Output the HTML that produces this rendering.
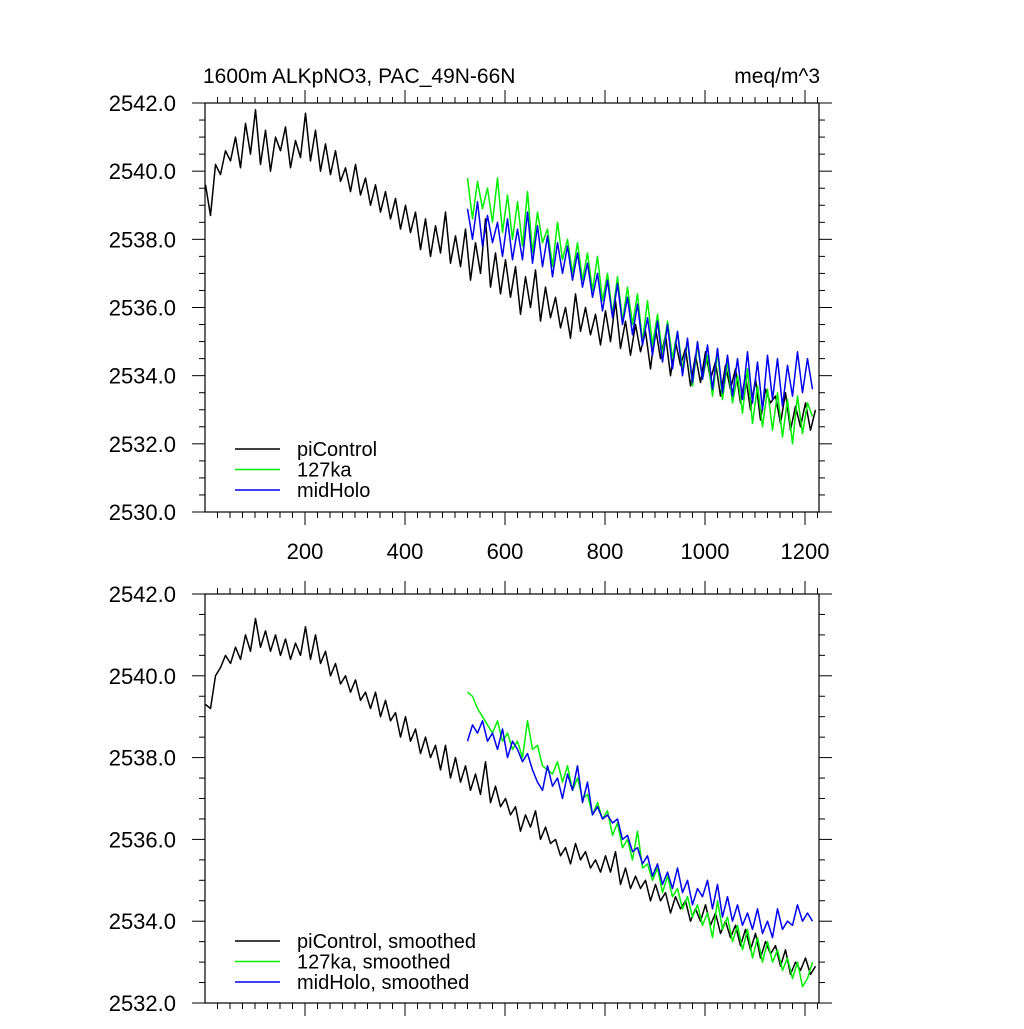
<!DOCTYPE html>
<html><head><meta charset="utf-8"><style>
body{margin:0;background:#fff;}
svg text{font-family:"Liberation Sans",Arial,sans-serif;fill:#000;}
</style></head><body>
<svg id="chart" width="1024" height="1024" xmlns="http://www.w3.org/2000/svg"></svg>
<script>
const pcX0=1, rcX0=525, step=10;
const yTicks1=["2530.0","2532.0","2534.0","2536.0","2538.0","2540.0","2542.0"];
const yTicks2=["2532.0","2534.0","2536.0","2538.0","2540.0","2542.0"];
const xTickLabels=["200","400","600","800","1000","1200"];
const piRaw=[2539.6,2538.7,2540.2,2539.9,2540.6,2540.3,2541.0,2540.1,2541.4,2540.5,
2541.8,2540.2,2541.2,2540.0,2541.0,2540.6,2541.3,2540.1,2540.9,2540.4,
2541.7,2540.3,2541.2,2540.0,2540.8,2539.9,2540.6,2539.7,2540.1,2539.4,
2540.2,2539.3,2539.8,2539.0,2539.6,2538.8,2539.4,2538.6,2539.2,2538.3,
2539.0,2538.2,2538.8,2537.7,2538.6,2537.5,2538.4,2537.6,2538.8,2537.3,
2538.1,2537.2,2538.3,2536.8,2537.9,2537.0,2538.6,2536.6,2537.6,2536.4,
2537.4,2536.3,2537.2,2535.8,2536.9,2536.0,2537.1,2535.6,2536.6,2535.7,
2536.3,2535.4,2536.0,2535.1,2536.4,2535.3,2536.0,2535.2,2535.8,2534.9,
2535.9,2535.0,2536.2,2534.8,2535.6,2534.6,2535.5,2534.7,2535.3,2534.2,
2535.4,2534.5,2535.2,2534.0,2535.0,2534.3,2534.8,2533.7,2534.6,2533.8,
2534.7,2533.9,2534.4,2533.4,2534.3,2533.6,2534.2,2533.2,2534.0,2533.0,
2533.9,2532.7,2533.6,2533.2,2533.4,2532.6,2533.5,2532.4,2533.1,2532.5,
2533.2,2532.4,2533.0];
const ka127Raw=[2539.8,2538.6,2539.7,2538.9,2539.5,2538.5,2539.8,2538.2,2539.3,2538.0,
2539.1,2537.8,2539.4,2537.6,2538.8,2537.9,2538.3,2537.2,2538.5,2537.4,
2538.0,2537.0,2537.9,2536.8,2537.6,2536.5,2537.5,2536.2,2537.0,2535.8,
2536.9,2535.6,2536.6,2535.5,2536.4,2535.0,2536.2,2534.9,2535.8,2534.6,
2535.6,2534.5,2535.3,2534.2,2535.0,2533.7,2534.9,2533.9,2534.6,2533.4,
2534.7,2533.3,2534.4,2533.2,2534.0,2532.9,2534.2,2532.6,2533.7,2532.5,
2533.6,2532.4,2533.5,2532.2,2533.3,2532.0,2533.4,2532.3,2533.2,2532.8];
const midRaw=[2538.9,2538.0,2539.1,2537.8,2538.7,2537.9,2538.5,2537.5,2538.6,2537.4,
2538.3,2537.4,2538.8,2537.3,2538.4,2537.2,2538.1,2536.9,2537.9,2537.0,
2537.8,2536.8,2537.6,2536.6,2537.3,2536.3,2537.0,2535.9,2536.8,2535.7,
2536.7,2535.5,2536.3,2535.2,2536.1,2534.9,2535.7,2534.6,2535.6,2534.4,
2535.5,2534.2,2535.3,2534.0,2535.1,2533.8,2535.0,2533.9,2534.9,2533.6,
2534.8,2533.5,2534.6,2533.4,2534.5,2533.3,2534.7,2533.2,2534.4,2533.0,
2534.6,2533.3,2534.5,2533.1,2534.3,2533.4,2534.7,2533.5,2534.5,2533.6];
const piSm=[2539.3,2539.2,2540.0,2540.2,2540.5,2540.3,2540.7,2540.4,2541.0,2540.6,
2541.4,2540.7,2541.1,2540.6,2541.0,2540.5,2540.9,2540.4,2540.8,2540.5,
2541.2,2540.4,2541.0,2540.3,2540.6,2540.0,2540.3,2539.8,2540.0,2539.6,
2539.9,2539.4,2539.6,2539.2,2539.6,2539.0,2539.4,2538.9,2539.1,2538.5,
2539.0,2538.4,2538.7,2538.1,2538.5,2538.0,2538.3,2537.7,2538.3,2537.5,
2538.0,2537.4,2537.8,2537.2,2537.6,2537.1,2537.9,2536.9,2537.3,2536.8,
2537.0,2536.6,2536.8,2536.2,2536.6,2536.3,2536.7,2536.0,2536.3,2535.9,
2536.0,2535.6,2535.8,2535.4,2535.9,2535.5,2535.7,2535.3,2535.5,2535.2,
2535.6,2535.2,2535.7,2534.9,2535.3,2534.8,2535.1,2534.8,2535.0,2534.5,
2534.9,2534.5,2534.7,2534.2,2534.6,2534.3,2534.5,2534.0,2534.3,2534.0,
2534.4,2533.9,2534.2,2533.7,2534.0,2533.6,2533.9,2533.4,2533.8,2533.3,
2533.7,2533.1,2533.5,2533.2,2533.4,2532.9,2533.3,2532.7,2533.0,2532.8,
2533.1,2532.7,2532.9];
const ka127Sm=[2539.6,2539.5,2539.2,2539.0,2538.8,2538.6,2538.9,2538.4,2538.6,2538.2,
2538.4,2538.0,2538.9,2538.2,2538.3,2537.8,2537.7,2537.6,2537.9,2537.4,
2537.8,2537.2,2537.5,2537.0,2537.1,2536.6,2536.9,2536.5,2536.7,2536.1,
2536.4,2535.8,2536.0,2535.5,2536.2,2535.3,2535.4,2535.0,2535.3,2534.7,
2535.1,2534.6,2534.8,2534.3,2534.6,2534.1,2534.4,2533.9,2534.2,2533.6,
2534.5,2533.8,2534.1,2533.5,2533.9,2533.3,2533.8,2533.1,2533.6,2533.0,
2533.5,2533.0,2533.3,2532.8,2533.1,2532.6,2533.0,2532.4,2532.6,2533.0];
const midSm=[2538.4,2538.8,2538.6,2538.9,2538.4,2538.6,2538.2,2538.7,2538.0,2538.4,
2538.2,2537.9,2538.1,2537.7,2537.4,2537.2,2537.8,2537.3,2537.5,2537.0,
2537.6,2537.2,2537.8,2536.9,2537.4,2536.6,2536.8,2536.5,2536.6,2536.4,
2536.5,2536.0,2536.1,2535.7,2535.8,2535.4,2535.6,2535.1,2535.4,2534.9,
2535.2,2534.8,2535.3,2534.7,2535.0,2534.4,2534.8,2534.6,2535.0,2534.3,
2534.9,2534.1,2534.6,2534.0,2534.4,2533.9,2534.2,2533.8,2534.3,2533.7,
2534.0,2533.6,2534.3,2533.8,2534.0,2533.9,2534.4,2534.0,2534.2,2534.0];

const svg=document.getElementById('chart');
const NS='http://www.w3.org/2000/svg';
function mk(tag,attrs,parent){const e=document.createElementNS(NS,tag);for(const k in attrs)e.setAttribute(k,attrs[k]);(parent||svg).appendChild(e);return e;}
const L=205,R=819;
const xs=v=>L+v*0.5;

function panel(top,bot,ymin,ymax,yLabels,series,legendNames,legendY0,showXLabels,name){
  const g=mk('g',{});
  
  
  const ys=v=>bot-(v-ymin)*(bot-top)/(ymax-ymin);
  series.forEach(s=>{
    const pts=s.data.map((v,i)=>xs(s.x0+i*step).toFixed(1)+','+ys(v).toFixed(1)).join(' ');
    const p=mk('polyline',{points:pts,fill:'none',stroke:s.color,'stroke-width':1.5,'stroke-linejoin':'round'},g);
    
    
  });
  const fr=mk('rect',{x:L,y:top,width:R-L,height:bot-top,fill:'none',stroke:'#000','stroke-width':1.2},g);
  
  
  for(let v=25;v<=1225;v+=25){
    const major=v%200===0;const len=major?13:6;const x=xs(v);
    mk('line',{x1:x,x2:x,y1:bot,y2:bot+len,stroke:'#000','stroke-width':1},g);
    mk('line',{x1:x,x2:x,y1:top,y2:top-len,stroke:'#000','stroke-width':1},g);
  }
  if(showXLabels){
    xTickLabels.forEach(t=>{
      const tx=mk('text',{x:xs(+t),y:bot+47,'font-size':22,'text-anchor':'middle'},g);
      tx.textContent=t;
      
      
    });
  }
  for(let v=ymin;v<=ymax+1e-6;v+=0.5){
    const major=Math.abs(v-Math.round(v/2)*2)<1e-6;const len=major?13:6;const y=ys(v);
    mk('line',{x1:L,x2:L-len,y1:y,y2:y,stroke:'#000','stroke-width':1},g);
    mk('line',{x1:R,x2:R+len,y1:y,y2:y,stroke:'#000','stroke-width':1},g);
  }
  yLabels.forEach(t=>{
    const tx=mk('text',{x:176,y:ys(+t)+8,'font-size':22,'text-anchor':'end'},g);
    tx.textContent=t;
    
    
  });
  series.forEach((s,i)=>{
    const y=legendY0+i*20.5;
    const ln=mk('line',{x1:235,x2:280,y1:y,y2:y,stroke:s.color,'stroke-width':1.5},g);
    
    
    const tx=mk('text',{x:297,y:y+7,'font-size':20},g);
    tx.textContent=legendNames[i];
    
    
  });
}
panel(103,512,2530,2542,yTicks1,[
 {data:piRaw,x0:pcX0,color:'#000',name:'picontrol-line'},
 {data:ka127Raw,x0:rcX0,color:'#00ee00',name:'127ka-line'},
 {data:midRaw,x0:rcX0,color:'#0000ee',name:'midholo-line'}],
 ['piControl','127ka','midHolo'],449,true,'top-panel');
panel(594,1003,2532,2542,yTicks2,[
 {data:piSm,x0:pcX0,color:'#000',name:'picontrol-smoothed-line'},
 {data:ka127Sm,x0:rcX0,color:'#00ee00',name:'127ka-smoothed-line'},
 {data:midSm,x0:rcX0,color:'#0000ee',name:'midholo-smoothed-line'}],
 ['piControl, smoothed','127ka, smoothed','midHolo, smoothed'],941,false,'bottom-panel');
const t1=mk('text',{x:203,y:83,'font-size':21});
t1.textContent='1600m ALKpNO3, PAC_49N-66N';


const t2=mk('text',{x:820,y:83,'font-size':21,'text-anchor':'end'});
t2.textContent='meq/m^3';


</script>
</body></html>
